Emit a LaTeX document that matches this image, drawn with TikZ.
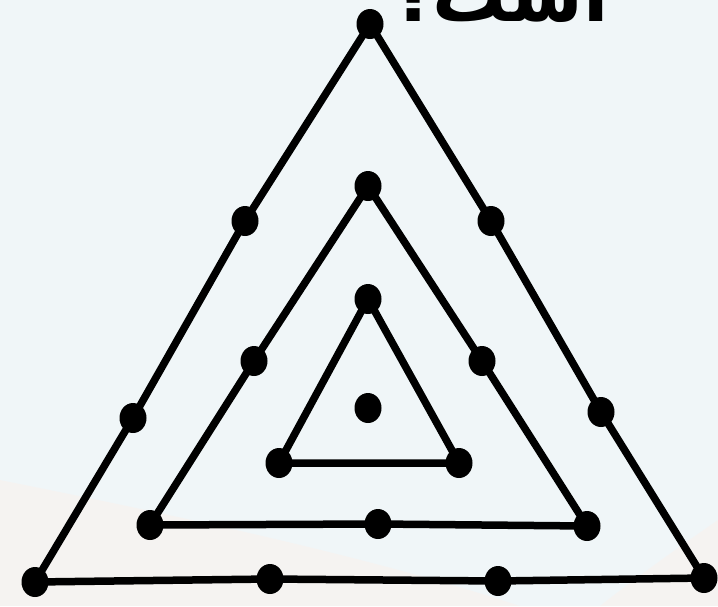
\documentclass[tikz,border=0pt]{standalone}
\usepackage{fontspec}
\usetikzlibrary{shapes.geometric}
\TeXXeTstate=1
\newfontfamily\arabicfont[Script=Arabic]{DejaVu Sans}
\definecolor{bgblue}{RGB}{240,246,248}
\definecolor{bgpink}{RGB}{251,241,236}
\tikzset{
  dot/.style={ellipse,fill=black,inner sep=0pt,minimum width=27pt,minimum height=30pt},
  edge/.style={line width=7.5pt,line join=round,line cap=round}
}
\begin{document}
\begin{tikzpicture}[x=1pt,y=-1pt]
\clip (0,0) rectangle (718,606);
\fill[bgblue] (0,0) rectangle (718,606);
\fill[bgpink,opacity=0.5] (0,480) .. controls (200,520) and (380,560) .. (520,606) -- (0,606) -- cycle;
\fill[bgpink,opacity=0.5] (718,520) .. controls (660,560) and (620,590) .. (600,606) -- (718,606) -- cycle;
\node[anchor=base east,font=\arabicfont\bfseries\fontsize{74}{80}\selectfont,inner sep=0pt] (title) at (609,21) {\beginR است؟\endR};
% outer
\coordinate (oT) at (370,24);
\coordinate (oL1) at (245,221);
\coordinate (oL2) at (133,418);
\coordinate (oBL) at (35,582);
\coordinate (oB1) at (270,579);
\coordinate (oB2) at (498,581);
\coordinate (oBR) at (704,578);
\coordinate (oR2) at (601,412);
\coordinate (oR1) at (491,221);
% middle
\coordinate (mT) at (368,186);
\coordinate (mL) at (254,361);
\coordinate (mBL) at (150,525);
\coordinate (mB) at (378,524);
\coordinate (mBR) at (587,526);
\coordinate (mR) at (482,361);
% inner
\coordinate (iT) at (368,299);
\coordinate (iBL) at (279,463);
\coordinate (iBR) at (459,463);
\coordinate (c) at (368,408);
\draw[edge] (oT) -- (oL1) -- (oL2) -- (oBL) -- (oB1) -- (oB2) -- (oBR) -- (oR2) -- (oR1) -- cycle;
\draw[edge] (mT) -- (mL) -- (mBL) -- (mB) -- (mBR) -- (mR) -- cycle;
\draw[edge] (iT) -- (iBL) -- (iBR) -- cycle;
\foreach \p in {oT,oL1,oL2,oBL,oB1,oB2,oBR,oR2,oR1,mT,mL,mBL,mB,mBR,mR,iT,iBL,iBR,c}
  \node[dot] (d\p) at (\p) {};
\end{tikzpicture}
\end{document}
